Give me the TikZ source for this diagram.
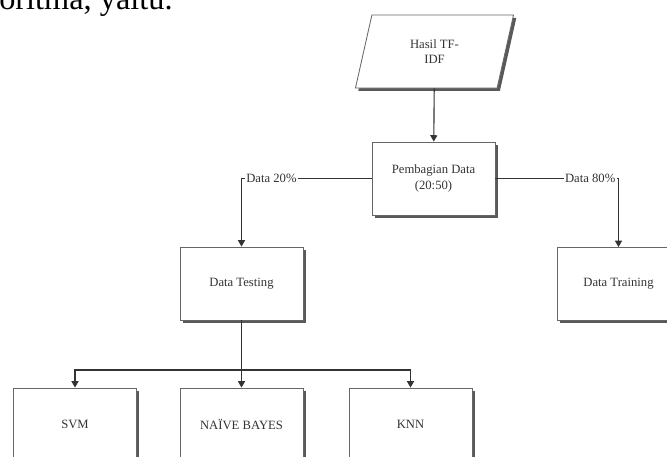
\documentclass[tikz,border=0pt]{standalone}
\usepackage{fontspec}
\setmainfont{Liberation Serif}
\usetikzlibrary{shapes.geometric,arrows.meta}

\tikzset{
  box/.style={draw=black!60, line width=0.6pt, fill=white, font=\fontsize{9}{11}\selectfont,
    text=black!80, align=center, minimum width=3.075cm, minimum height=1.825cm,
    preaction={fill=black!65, transform canvas={shift={(2pt,-2pt)}}}},
  inputbox/.style={box, trapezium, trapezium left angle=64, trapezium right angle=116,
    trapezium stretches body, minimum width=3.95cm},
  conn/.style={draw=black!80, line width=0.8pt},
  arr/.style={conn, -{Triangle[width=5pt,length=4.5pt]}},
  lbl/.style={fill=white, inner sep=1pt, font=\fontsize{9}{11}\selectfont, text=black!80}
}

\begin{document}
\begin{tikzpicture}[x=0.025cm, y=-0.025cm]
  \useasboundingbox (0,0) rectangle (667,457);
  \clip (0,0) rectangle (667,457);

  \node[anchor=base west, inner sep=0pt, font=\fontsize{23}{27}\selectfont] (intro) at (-1,9.5) {oritma, yaitu.};

  \node[inputbox] (tfidf) at (434.5,51.5) {Hasil TF-\\IDF};
  \node[box] (bagi) at (433.5,178.5) {Pembagian Data\\(20:50)};
  \node[box] (testing) at (241.5,283.5) {Data Testing};
  \node[box] (training) at (618.5,284) {Data Training};
  \node[box] (svm) at (75,424.5) {SVM};
  \node[box] (bayes) at (241.5,424.5) {NAÏVE BAYES};
  \node[box] (knn) at (410.5,424.5) {KNN};

  \coordinate (split) at (241.5,370);

  \draw[arr] (tfidf) -- (bagi);
  \draw[arr] (bagi.west) -| node[lbl, pos=0.385] {Data 20\%} (testing.north);
  \draw[arr] (bagi.east) -| node[lbl, pos=0.385] {Data 80\%} (training.north);
  \draw[arr] (testing) -- (bayes);
  \draw[arr] (split) -| (svm.north);
  \draw[arr] (split) -| (knn.north);
\end{tikzpicture}
\end{document}
